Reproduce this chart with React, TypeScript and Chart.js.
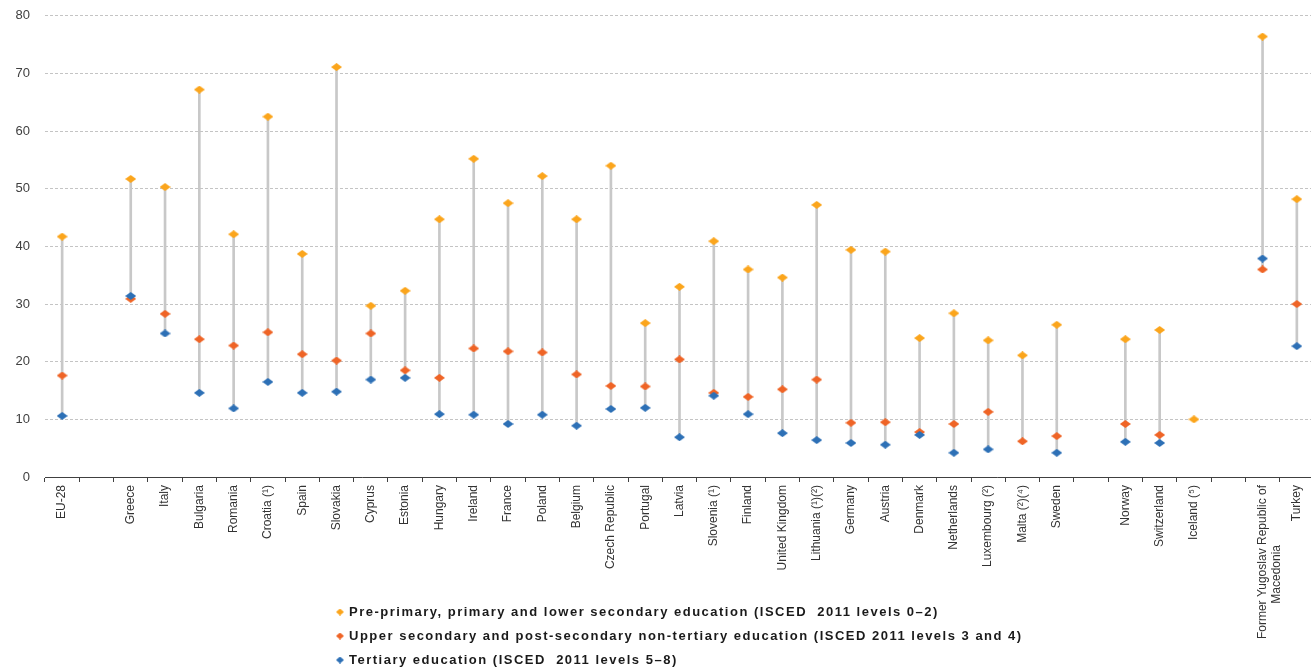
import React, { useEffect, useRef } from "react";
import { Chart, registerables } from "chart.js";

Chart.register(...registerables);

const categories: (string | string[])[] = [
  "EU-28", "", "Greece", "Italy", "Bulgaria", "Romania", "Croatia (¹)", "Spain", "Slovakia", "Cyprus",
  "Estonia", "Hungary", "Ireland", "France", "Poland", "Belgium", "Czech Republic", "Portugal", "Latvia",
  "Slovenia (¹)", "Finland", "United Kingdom", "Lithuania (¹)(²)", "Germany", "Austria", "Denmark",
  "Netherlands", "Luxembourg (²)", "Malta (²)(⁴)", "Sweden", "", "Norway", "Switzerland", "Iceland (⁵)", "",
  ["Former Yugoslav Republic of", "Macedonia                  "], "Turkey",
];

const lowerSecondary: (number | null)[] = [
  41.7, null, 51.7, 50.3, 67.2, 42.1, 62.5, 38.7, 71.1, 29.7,
  32.3, 44.7, 55.2, 47.5, 52.2, 44.7, 54.0, 26.7, 33.0,
  40.9, 36.0, 34.6, 47.2, 39.4, 39.1, 24.1,
  28.4, 23.7, 21.1, 26.4, null, 23.9, 25.5, 10.0, null,
  76.4, 48.2,
];

const upperSecondary: (number | null)[] = [
  17.6, null, 30.9, 28.3, 23.9, 22.8, 25.1, 21.3, 20.2, 24.9,
  18.5, 17.2, 22.3, 21.8, 21.6, 17.8, 15.8, 15.7, 20.4,
  14.6, 13.9, 15.2, 16.9, 9.4, 9.5, 7.8,
  9.2, 11.3, 6.2, 7.1, null, 9.2, 7.3, null, null,
  36.0, 30.0,
];

const tertiary: (number | null)[] = [
  10.6, null, 31.4, 24.9, 14.6, 11.9, 16.5, 14.6, 14.8, 16.9,
  17.2, 10.9, 10.8, 9.2, 10.8, 8.9, 11.8, 12.0, 6.9,
  14.1, 10.9, 7.6, 6.4, 5.9, 5.6, 7.3,
  4.2, 4.8, null, 4.2, null, 6.1, 5.9, null, null,
  37.9, 22.7,
];

const seriesLabels = [
  "Pre-primary, primary and lower secondary education (ISCED  2011 levels 0–2)",
  "Upper secondary and post-secondary non-tertiary education (ISCED 2011 levels 3 and 4)",
  "Tertiary education (ISCED  2011 levels 5–8)",
];

const COLORS = ["#FBA51C", "#EF6426", "#2D70B6"];
const FONT = "'Liberation Sans', Arial, Helvetica, sans-serif";
const SHIFT = 7;

function makeDiamond(color: string, w: number, h: number): HTMLCanvasElement {
  const c = document.createElement("canvas");
  c.width = w;
  c.height = h;
  const ctx = c.getContext("2d")!;
  ctx.fillStyle = color;
  ctx.beginPath();
  ctx.moveTo(w / 2, 0);
  ctx.lineTo(w, h / 2);
  ctx.lineTo(w / 2, h);
  ctx.lineTo(0, h / 2);
  ctx.closePath();
  ctx.fill();
  return c;
}

export default function App() {
  const ref = useRef<HTMLCanvasElement | null>(null);

  useEffect(() => {
    if (!ref.current) return;
    const series = [lowerSecondary, upperSecondary, tertiary];
    const ranges = categories.map((_, i) => {
      const vals = series.map((s) => s[i]).filter((v) => v !== null) as number[];
      if (vals.length < 2) return null;
      return [Math.min(...vals), Math.max(...vals)];
    });

    const legendPlugin = {
      id: "customLegend",
      afterDraw(chart: any) {
        const ctx = chart.ctx as CanvasRenderingContext2D;
        ctx.save();
        const ys = [612 + SHIFT, 636 + SHIFT, 660 + SHIFT];
        seriesLabels.forEach((label, i) => {
          const d = makeDiamond(COLORS[i], 8, 7);
          ctx.drawImage(d, 340 - 4, ys[i] - 3.5);
          ctx.fillStyle = "#1a1a1a";
          ctx.font = `bold 13px ${FONT}`;
          (ctx as any).letterSpacing = "1.5px";
          ctx.textBaseline = "middle";
          ctx.textAlign = "left";
          ctx.fillText(label, 349, ys[i]);
        });
        ctx.restore();
      },
    };

    const chart = new Chart(ref.current, {
      type: "bar",
      data: {
        labels: categories as any,
        datasets: [
          {
            type: "bar",
            label: "range",
            data: ranges as any,
            backgroundColor: "#c8c8c8",
            barThickness: 2,
            order: 4,
          } as any,
          {
            type: "line",
            label: seriesLabels[0],
            data: lowerSecondary,
            showLine: false,
            pointStyle: makeDiamond(COLORS[0], 11, 8),
            pointRadius: 5,
            order: 3,
          } as any,
          {
            type: "line",
            label: seriesLabels[1],
            data: upperSecondary,
            showLine: false,
            pointStyle: makeDiamond(COLORS[1], 11, 8),
            pointRadius: 5,
            order: 2,
          } as any,
          {
            type: "line",
            label: seriesLabels[2],
            data: tertiary,
            showLine: false,
            pointStyle: makeDiamond(COLORS[2], 11, 8),
            pointRadius: 5,
            order: 1,
          } as any,
        ],
      },
      options: {
        responsive: false,
        animation: false,
        devicePixelRatio: 1,
        layout: { padding: { top: 8, right: 4, left: 0, bottom: 0 } },
        plugins: { legend: { display: false }, tooltip: { enabled: false } },
        scales: {
          x: {
            grid: { offset: true, drawOnChartArea: false, tickLength: 5, color: "#404040" },
            border: { display: true, color: "#404040", width: 1 },
            ticks: {
              autoSkip: false,
              maxRotation: 90,
              minRotation: 90,
              padding: 3,
              color: "#333333",
              font: { size: 12, family: FONT },
            },
            afterFit: (s: any) => {
              s.height = 191;
            },
          },
          y: {
            min: 0,
            max: 80,
            ticks: { stepSize: 10, padding: 15, color: "#404040", font: { size: 13, family: FONT } },
            grid: { color: "#c4c4c4", drawTicks: false },
            border: { display: false, dash: [3, 2] },
            afterFit: (s: any) => {
              s.width = 45;
            },
          },
        },
      } as any,
      plugins: [legendPlugin],
    });
    return () => chart.destroy();
  }, []);

  return (
    <div style={{ position: "fixed", left: 0, top: 0, width: 1311, height: 668, overflow: "hidden", background: "#fff" }}>
      <canvas ref={ref} width={1320} height={668 + SHIFT} style={{ display: "block", marginTop: -SHIFT }} />
    </div>
  );
}
